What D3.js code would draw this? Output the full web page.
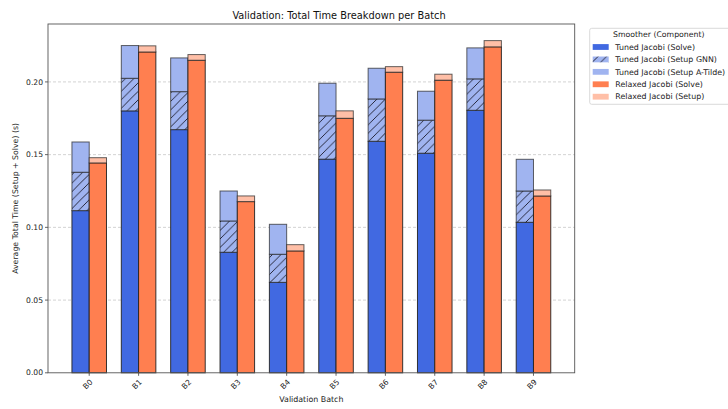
<!DOCTYPE html>
<html>
<head>
<meta charset="utf-8">
<script src="https://cdn.jsdelivr.net/npm/d3@7"></script>
<style>
  html, body { margin: 0; padding: 0; background: #fff; }
  svg { display: block; font-family: "DejaVu Sans", sans-serif; }
</style>
</head>
<body>
<svg id="chart" width="728" height="409"></svg>
<script>
// Average per-batch timings (seconds)
const batches = ["B0", "B1", "B2", "B3", "B4", "B5", "B6", "B7", "B8", "B9"];
const tunedSolve       = [0.1115, 0.1801, 0.1672, 0.0829, 0.0622, 0.1469, 0.1592, 0.1510, 0.1805, 0.1035];
const tunedSetupGnn    = [0.0264, 0.0224, 0.0261, 0.0215, 0.0193, 0.0298, 0.0291, 0.0227, 0.0216, 0.0215];
const tunedSetupATilde = [0.0208, 0.0225, 0.0232, 0.0206, 0.0206, 0.0224, 0.0211, 0.0199, 0.0213, 0.0218];
const relaxedSolve     = [0.1443, 0.2206, 0.2149, 0.1177, 0.0838, 0.1750, 0.2067, 0.2012, 0.2241, 0.1216];
const relaxedSetup     = [0.0036, 0.0042, 0.0039, 0.0039, 0.0043, 0.0051, 0.0038, 0.0041, 0.0043, 0.0041];
const yTicks = [0.00, 0.05, 0.10, 0.15, 0.20];
const legendLabels = [
  "Tuned Jacobi (Solve)",
  "Tuned Jacobi (Setup GNN)",
  "Tuned Jacobi (Setup A-Tilde)",
  "Relaxed Jacobi (Solve)",
  "Relaxed Jacobi (Setup)"
];

const svg = d3.select("#chart");
const plotLeft = 48, plotRight = 574.7, plotTop = 24, plotBottom = 372.8;
const barW = 0.35;

const tunedRows = batches.map((b, i) => ({ i, solve: tunedSolve[i], gnn: tunedSetupGnn[i], atilde: tunedSetupATilde[i] }));
const relaxedRows = batches.map((b, i) => ({ i, solve: relaxedSolve[i], setup: relaxedSetup[i] }));
const tunedStack = d3.stack().keys(["solve", "gnn", "atilde"])(tunedRows);
const relaxedStack = d3.stack().keys(["solve", "setup"])(relaxedRows);

const maxTotal = d3.max([...tunedStack, ...relaxedStack].flatMap(s => s.map(d => d[1])));
// x limits follow a 5% margin around the bar extent
const xMin = -barW, xMax = batches.length - 1 + barW;
const pad = 0.05 * (xMax - xMin);
const x = d3.scaleLinear().domain([xMin - pad, xMax + pad]).range([plotLeft, plotRight]);
const y = d3.scaleLinear().domain([0, maxTotal * 1.05]).range([plotBottom, plotTop]);

// hatch pattern for the GNN setup segment
const defs = svg.append("defs");
const hatch = defs.append("pattern")
  .attr("id", "hatch").attr("patternUnits", "userSpaceOnUse")
  .attr("width", 8.5).attr("height", 8.5);
hatch.append("rect").attr("width", 8.5).attr("height", 8.5).attr("fill", "#a0b4f0");
hatch.append("path").attr("d", "M-1,1 L1,-1 M0,8.5 L8.5,0 M7.5,9.5 L9.5,7.5")
  .attr("stroke", "#1a1a2a").attr("stroke-width", 0.9);

// grid
svg.append("g").selectAll("line").data(yTicks.filter(t => t > 0)).join("line")
  .attr("x1", plotLeft).attr("x2", plotRight)
  .attr("y1", d => y(d)).attr("y2", d => y(d))
  .attr("stroke", "#c8c8c8").attr("stroke-width", 0.8).attr("stroke-dasharray", "3,2");

const tunedFill = { solve: "#4169e1", gnn: "url(#hatch)", atilde: "#a0b4f0" };
const relaxedFill = { solve: "#ff7f50", setup: "#ffbfa7" };

const bars = svg.append("g");
tunedStack.forEach(series => {
  bars.append("g").selectAll("rect").data(series).join("rect")
    .attr("x", d => x(d.data.i - barW))
    .attr("width", d => x(barW) - x(0))
    .attr("y", d => y(d[1]))
    .attr("height", d => y(d[0]) - y(d[1]))
    .attr("fill", tunedFill[series.key])
    .attr("stroke", "#222").attr("stroke-opacity", series.key === "solve" ? 0.9 : 0.7)
    .attr("stroke-width", 1);
});
relaxedStack.forEach(series => {
  bars.append("g").selectAll("rect").data(series).join("rect")
    .attr("x", d => x(d.data.i))
    .attr("width", d => x(barW) - x(0))
    .attr("y", d => y(d[1]))
    .attr("height", d => y(d[0]) - y(d[1]))
    .attr("fill", relaxedFill[series.key])
    .attr("stroke", "#222").attr("stroke-opacity", series.key === "solve" ? 0.9 : 0.7)
    .attr("stroke-width", 1);
});

// frame
svg.append("rect").attr("x", plotLeft).attr("y", plotTop)
  .attr("width", plotRight - plotLeft).attr("height", plotBottom - plotTop)
  .attr("fill", "none").attr("stroke", "#555").attr("stroke-width", 0.9);

// y axis
const yAxis = svg.append("g");
yTicks.forEach(t => {
  yAxis.append("line").attr("x1", plotLeft - 3).attr("x2", plotLeft)
    .attr("y1", y(t)).attr("y2", y(t)).attr("stroke", "#555").attr("stroke-width", 0.9);
  yAxis.append("text").attr("x", plotLeft - 5).attr("y", y(t)).attr("dy", "0.35em")
    .attr("text-anchor", "end").attr("font-size", 7.6).attr("fill", "#222")
    .text(d3.format(".2f")(t));
});

// x axis
const xAxis = svg.append("g");
batches.forEach((b, i) => {
  xAxis.append("line").attr("x1", x(i)).attr("x2", x(i))
    .attr("y1", plotBottom).attr("y2", plotBottom + 3).attr("stroke", "#555").attr("stroke-width", 0.9);
  xAxis.append("text")
    .attr("transform", `translate(${x(i) + 2},${plotBottom + 8}) rotate(-45)`)
    .attr("text-anchor", "end").attr("dy", "0.35em")
    .attr("font-size", 7.6).attr("fill", "#222").text(b);
});

// titles
svg.append("text").attr("x", 339).attr("y", 18.8)
  .attr("text-anchor", "middle").attr("font-size", 9.8).attr("fill", "#111")
  .text("Validation: Total Time Breakdown per Batch");
svg.append("text").attr("x", (plotLeft + plotRight) / 2).attr("y", 402)
  .attr("text-anchor", "middle").attr("font-size", 7.9).attr("fill", "#222")
  .text("Validation Batch");
svg.append("text").attr("transform", `translate(18,${(plotTop + plotBottom) / 2}) rotate(-90)`)
  .attr("text-anchor", "middle").attr("font-size", 7.8).attr("fill", "#222")
  .text("Average Total Time (Setup + Solve) (s)");

// legend
const lg = svg.append("g");
lg.append("rect").attr("x", 589.7).attr("y", 28.3).attr("width", 150).attr("height", 76)
  .attr("rx", 2).attr("fill", "#fff").attr("fill-opacity", 0.8)
  .attr("stroke", "#d0d0d0").attr("stroke-width", 0.8);
lg.append("text").attr("x", 658.8).attr("y", 34.7).attr("dy", "0.35em")
  .attr("text-anchor", "middle").attr("font-size", 7.75).attr("fill", "#222")
  .text("Smoother (Component)");
const legendFills = ["#4169e1", "url(#hatch)", "#a0b4f0", "#ff7f50", "#ffbfa7"];
const legendY = d3.scaleLinear().domain([0, 4]).range([47, 96.7]);
legendLabels.forEach((lab, k) => {
  lg.append("rect").attr("x", 592.7).attr("y", legendY(k) - 2.9)
    .attr("width", 16).attr("height", 5.8).attr("fill", legendFills[k]);
  lg.append("text").attr("x", 615.3).attr("y", legendY(k)).attr("dy", "0.35em")
    .attr("font-size", 7.9).attr("fill", "#222").text(lab);
});
</script>
</body>
</html>
